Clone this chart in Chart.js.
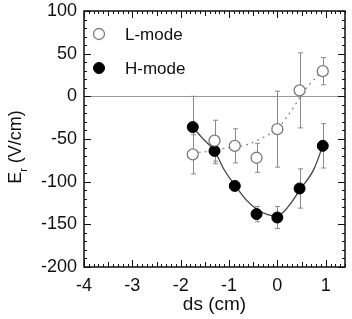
<!DOCTYPE html>
<html>
<head>
<meta charset="utf-8">
<script src="https://cdn.jsdelivr.net/npm/chart.js@4/dist/chart.umd.min.js"></script>
<style>
  html, body { margin: 0; padding: 0; background: #fff; }
  canvas { display: block; }
</style>
</head>
<body>
<canvas id="c" width="352" height="319"></canvas>
<script>
// ---- data ----
const seriesLabels = ['L-mode', 'H-mode'];
const dsPositions = [-1.75, -1.3, -0.88, -0.43, 0, 0.46, 0.94];
const lModeEr  = [-68, -52, -58, -72, -38.5, 7, 29.5];
const lModeErr = [23, 24, 20, 17, 44.5, 44, 16];
const hModeEr  = [-36, -64, -105, -138, -142, -108, -58];
const hModeErr = [36, 15, 5, 9, 13, 23, 26];

// fitted curves
const lFitX = [-1.75, -1.4, -1.1, -0.65, -0.43, -0.22, 0, 0.2, 0.38, 0.5, 0.65, 0.8, 0.94];
const lFitY = [-66, -64.5, -61, -57, -52, -46, -38.5, -24, -9, 2, 13, 22, 29.5];
const hFitX = [-1.75, -1.55, -1.3, -1.1, -0.88, -0.65, -0.43, -0.2, 0, 0.1, 0.27, 0.46, 0.76, 0.94];
const hFitY = [-36, -49, -64, -86, -104, -121, -132, -138.5, -140, -137, -126, -110, -85, -58];

const xTickValues = [-4, -3, -2, -1, 0, 1];
const yTickValues = [-200, -150, -100, -50, 0, 50, 100];
const xMin = -4, xMax = 1.4, yMin = -200, yMax = 100;

const FONT = '"Liberation Sans", Arial, Helvetica, sans-serif';

const toPts = (xs, ys) => xs.map((x, i) => ({ x: x, y: ys[i] }));

const errorBars = {
  id: 'errorBars',
  beforeDatasetsDraw(chart) {
    const ctx = chart.ctx, xs = chart.scales.x, ys = chart.scales.y;
    ctx.save();
    ctx.strokeStyle = '#8a8a8a';
    ctx.lineWidth = 1;
    const sets = [[lModeEr, lModeErr], [hModeEr, hModeErr]];
    sets.forEach(([vals, errs]) => {
      dsPositions.forEach((x, i) => {
        const px = Math.round(xs.getPixelForValue(x)) + 0.5;
        const y1 = ys.getPixelForValue(vals[i] + errs[i]);
        const y2 = ys.getPixelForValue(vals[i] - errs[i]);
        ctx.beginPath();
        ctx.moveTo(px, y1); ctx.lineTo(px, y2);
        ctx.moveTo(px - 2.5, y1); ctx.lineTo(px + 2.5, y1);
        ctx.moveTo(px - 2.5, y2); ctx.lineTo(px + 2.5, y2);
        ctx.stroke();
      });
    });
    ctx.restore();
  }
};

const frameAndTicks = {
  id: 'frameAndTicks',
  afterDraw(chart) {
    const ctx = chart.ctx, xs = chart.scales.x, ys = chart.scales.y;
    const a = chart.chartArea;
    ctx.save();
    ctx.strokeStyle = '#111';
    ctx.lineWidth = 1;
    ctx.beginPath();
    for (let i = Math.round(xMin * 10); i <= Math.round(xMax * 10); i++) {
      const px = Math.round(xs.getPixelForValue(i / 10)) + 0.5;
      const len = (i % 10 === 0) ? 7 : ((i % 5 === 0) ? 5 : 3);
      ctx.moveTo(px, a.bottom); ctx.lineTo(px, a.bottom - len);
      ctx.moveTo(px, a.top); ctx.lineTo(px, a.top + len);
    }
    for (let v = yMin; v <= yMax; v += 10) {
      const py = Math.round(ys.getPixelForValue(v)) + 0.5;
      const len = (v % 50 === 0) ? 7 : 3;
      ctx.moveTo(a.left, py); ctx.lineTo(a.left + len, py);
      ctx.moveTo(a.right, py); ctx.lineTo(a.right - len, py);
    }
    ctx.stroke();
    ctx.lineWidth = 1.5;
    ctx.strokeRect(a.left, a.top, a.right - a.left, a.bottom - a.top);

    // y-axis title with subscript
    ctx.fillStyle = '#111';
    ctx.translate(16, 147);
    ctx.rotate(-Math.PI / 2);
    ctx.textBaseline = 'middle';
    ctx.textAlign = 'left';
    const big = '18px ' + FONT, small = '11px ' + FONT;
    ctx.font = big; const wE = ctx.measureText('E').width;
    ctx.font = small; const wr = ctx.measureText('r').width;
    ctx.font = big; const wRest = ctx.measureText(' (V/cm)').width;
    let x0 = -(wE + wr + wRest) / 2;
    ctx.font = big; ctx.fillText('E', x0, 0);
    ctx.font = small; ctx.fillText('r', x0 + wE, 8);
    ctx.font = big; ctx.fillText(' (V/cm)', x0 + wE + wr, 0);
    ctx.restore();

    // legend
    ctx.save();
    const rows = [[chart.data.datasets[0], 34], [chart.data.datasets[1], 68]];
    rows.forEach(([ds, y]) => {
      ctx.beginPath();
      ctx.arc(99, y, ds.pointRadius, 0, Math.PI * 2);
      ctx.fillStyle = ds.pointBackgroundColor;
      ctx.fill();
      ctx.lineWidth = ds.pointBorderWidth;
      ctx.strokeStyle = ds.pointBorderColor;
      ctx.stroke();
      ctx.fillStyle = '#111';
      ctx.font = '17px ' + FONT;
      ctx.textBaseline = 'middle';
      ctx.textAlign = 'left';
      ctx.fillText(ds.label, 125, y + 1);
    });
    ctx.restore();
  }
};

new Chart(document.getElementById('c'), {
  type: 'scatter',
  data: {
    datasets: [
      {
        label: seriesLabels[0],
        data: toPts(dsPositions, lModeEr),
        showLine: false,
        pointRadius: 5.5,
        pointBackgroundColor: '#ffffff',
        pointBorderColor: '#7a7a7a',
        pointBorderWidth: 1.3
      },
      {
        label: seriesLabels[1],
        data: toPts(dsPositions, hModeEr),
        showLine: false,
        pointRadius: 5.5,
        pointBackgroundColor: '#000000',
        pointBorderColor: '#000000',
        pointBorderWidth: 1
      },
      {
        label: 'L-mode fit',
        data: toPts(lFitX, lFitY),
        showLine: true,
        pointRadius: 0,
        borderColor: '#8a8a8a',
        borderWidth: 1.3,
        borderDash: [2, 4],
        cubicInterpolationMode: 'monotone'
      },
      {
        label: 'H-mode fit',
        data: toPts(hFitX, hFitY),
        showLine: true,
        pointRadius: 0,
        borderColor: '#444444',
        borderWidth: 1.3,
        cubicInterpolationMode: 'monotone'
      }
    ]
  },
  options: {
    responsive: false,
    animation: false,
    devicePixelRatio: 1,
    layout: { padding: { top: 11, right: 7, left: 0, bottom: 0 } },
    plugins: { legend: { display: false }, tooltip: { enabled: false } },
    scales: {
      x: {
        type: 'linear',
        min: xMin, max: xMax,
        afterFit(s) { s.height = 52; s.paddingLeft = 0; s.paddingRight = 0; },
        afterBuildTicks(s) { s.ticks = xTickValues.map(v => ({ value: v })); },
        grid: { display: false, drawTicks: false },
        border: { display: false },
        ticks: { color: '#111', font: { size: 18, family: FONT }, padding: 8, maxRotation: 0 },
        title: { display: true, text: 'ds (cm)', color: '#111', font: { size: 19, family: FONT }, padding: { top: 0, bottom: 3 } }
      },
      y: {
        type: 'linear',
        min: yMin, max: yMax,
        afterFit(s) { s.width = 84; s.paddingTop = 0; s.paddingBottom = 0; },
        afterBuildTicks(s) { s.ticks = yTickValues.map(v => ({ value: v })); },
        grid: {
          drawTicks: false,
          color: (c) => (c.tick && c.tick.value === 0) ? '#9a9a9a' : 'rgba(0,0,0,0)',
          lineWidth: 1
        },
        border: { display: false },
        ticks: { color: '#111', font: { size: 18, family: FONT }, padding: 7 }
      }
    }
  },
  plugins: [errorBars, frameAndTicks]
});
</script>
</body>
</html>
